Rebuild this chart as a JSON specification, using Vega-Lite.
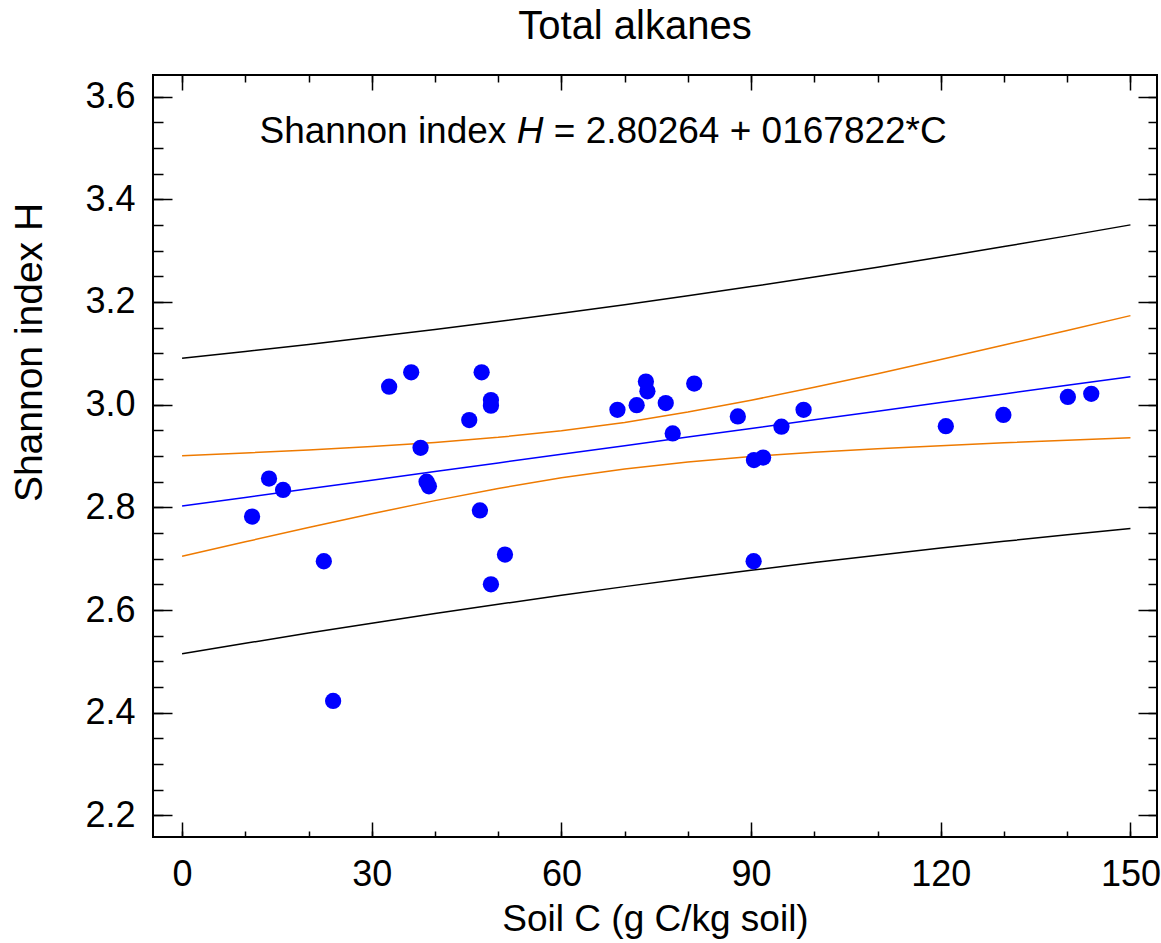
{
  "$schema": "https://vega.github.io/schema/vega-lite/v6.json",
  "width": 1004,
  "height": 762,
  "autosize": {"type": "none"},
  "padding": {"left": 153, "top": 75, "right": 4, "bottom": 106},
  "background": "white",
  "title": {"text": "Total alkanes", "font": "Liberation Sans", "fontSize": 40, "fontWeight": "normal", "color": "black", "anchor": "middle", "baseline": "alphabetic", "offset": -5, "dx": -20},
  "config": {
    "view": {"stroke": "black", "strokeWidth": 2},
    "axis": {"domain": false, "grid": false, "labelFont": "Liberation Sans", "titleFont": "Liberation Sans", "labelColor": "black", "titleColor": "black", "tickColor": "black", "tickWidth": 1.5, "titleFontWeight": "normal", "labelFontSize": 36, "titleFontSize": 37}
  },
  "datasets": {
    "points": [
      {"C": 11.07, "H": 2.782}, {"C": 13.75, "H": 2.856}, {"C": 15.97, "H": 2.834}, {"C": 22.42, "H": 2.695},
      {"C": 23.89, "H": 2.423}, {"C": 32.75, "H": 3.035}, {"C": 36.24, "H": 3.063}, {"C": 37.72, "H": 2.916},
      {"C": 38.67, "H": 2.850}, {"C": 39.04, "H": 2.841}, {"C": 45.42, "H": 2.970}, {"C": 47.38, "H": 3.063},
      {"C": 47.11, "H": 2.794}, {"C": 48.85, "H": 3.009}, {"C": 48.85, "H": 2.998}, {"C": 48.85, "H": 2.650},
      {"C": 51.07, "H": 2.708}, {"C": 68.86, "H": 2.990}, {"C": 71.9, "H": 2.999}, {"C": 73.36, "H": 3.045},
      {"C": 73.6, "H": 3.026}, {"C": 76.5, "H": 3.003}, {"C": 77.6, "H": 2.944}, {"C": 81.0, "H": 3.041},
      {"C": 87.9, "H": 2.977}, {"C": 90.45, "H": 2.892}, {"C": 91.9, "H": 2.897}, {"C": 90.4, "H": 2.695},
      {"C": 94.8, "H": 2.957}, {"C": 98.3, "H": 2.990}, {"C": 120.8, "H": 2.958}, {"C": 129.9, "H": 2.980},
      {"C": 140.1, "H": 3.015}, {"C": 143.8, "H": 3.021}
    ],
    "fit": [
      {"C": 0, "fit": 2.8026, "conf_hi": 2.9006, "conf_lo": 2.7046, "pred_hi": 3.0905, "pred_lo": 2.5147},
      {"C": 10, "fit": 2.8194, "conf_hi": 2.9059, "conf_lo": 2.7329, "pred_hi": 3.1036, "pred_lo": 2.5352},
      {"C": 20, "fit": 2.8362, "conf_hi": 2.9118, "conf_lo": 2.7606, "pred_hi": 3.1173, "pred_lo": 2.5551},
      {"C": 30, "fit": 2.8530, "conf_hi": 2.9185, "conf_lo": 2.7875, "pred_hi": 3.1316, "pred_lo": 2.5744},
      {"C": 40, "fit": 2.8698, "conf_hi": 2.9265, "conf_lo": 2.8131, "pred_hi": 3.1464, "pred_lo": 2.5932},
      {"C": 50, "fit": 2.8865, "conf_hi": 2.9363, "conf_lo": 2.8367, "pred_hi": 3.1618, "pred_lo": 2.6112},
      {"C": 60, "fit": 2.9033, "conf_hi": 2.9491, "conf_lo": 2.8575, "pred_hi": 3.1779, "pred_lo": 2.6287},
      {"C": 70, "fit": 2.9201, "conf_hi": 2.9654, "conf_lo": 2.8748, "pred_hi": 3.1946, "pred_lo": 2.6456},
      {"C": 80, "fit": 2.9369, "conf_hi": 2.9855, "conf_lo": 2.8883, "pred_hi": 3.2120, "pred_lo": 2.6618},
      {"C": 90, "fit": 2.9537, "conf_hi": 3.0085, "conf_lo": 2.8989, "pred_hi": 3.2299, "pred_lo": 2.6775},
      {"C": 100, "fit": 2.9705, "conf_hi": 3.0338, "conf_lo": 2.9072, "pred_hi": 3.2485, "pred_lo": 2.6925},
      {"C": 110, "fit": 2.9872, "conf_hi": 3.0603, "conf_lo": 2.9141, "pred_hi": 3.2676, "pred_lo": 2.7068},
      {"C": 120, "fit": 3.0040, "conf_hi": 3.0878, "conf_lo": 2.9202, "pred_hi": 3.2874, "pred_lo": 2.7206},
      {"C": 130, "fit": 3.0208, "conf_hi": 3.1160, "conf_lo": 2.9256, "pred_hi": 3.3078, "pred_lo": 2.7338},
      {"C": 140, "fit": 3.0376, "conf_hi": 3.1445, "conf_lo": 2.9307, "pred_hi": 3.3287, "pred_lo": 2.7465},
      {"C": 150, "fit": 3.0544, "conf_hi": 3.1734, "conf_lo": 2.9354, "pred_hi": 3.3501, "pred_lo": 2.7587}
    ]
  },
  "layer": [
    {
      "data": {"name": "fit"},
      "mark": {"type": "line", "color": "black", "strokeWidth": 1.5},
      "encoding": {
        "x": {"field": "C", "type": "quantitative", "scale": {"domain": [-4.6, 154.2], "nice": false, "zero": false},
              "axis": {"orient": "bottom", "values": [0,10,20,30,40,50,60,70,80,90,100,110,120,130,140,150], "labels": false, "tickSize": -6, "title": null}},
        "y": {"field": "pred_hi", "type": "quantitative", "scale": {"domain": [2.158, 3.642], "nice": false, "zero": false},
              "axis": {"orient": "left", "values": [2.2,2.25,2.3,2.35,2.4,2.45,2.5,2.55,2.6,2.65,2.7,2.75,2.8,2.85,2.9,2.95,3.0,3.05,3.1,3.15,3.2,3.25,3.3,3.35,3.4,3.45,3.5,3.55,3.6], "labels": false, "tickSize": -10, "title": null}}
      }
    },
    {
      "data": {"name": "fit"},
      "mark": {"type": "line", "color": "black", "strokeWidth": 1.5},
      "encoding": {
        "x": {"field": "C", "type": "quantitative", "scale": {"domain": [-4.6, 154.2], "nice": false, "zero": false},
              "axis": {"orient": "top", "values": [0,30,60,90,120,150], "labels": false, "tickSize": -15, "title": null}},
        "y": {"field": "pred_lo", "type": "quantitative", "scale": {"domain": [2.158, 3.642], "nice": false, "zero": false},
              "axis": {"orient": "right", "values": [2.2,2.4,2.6,2.8,3.0,3.2,3.4,3.6], "labels": false, "tickSize": -19, "title": null}}
      }
    },
    {
      "data": {"name": "fit"},
      "mark": {"type": "line", "color": "#EE7A00", "strokeWidth": 1.5},
      "encoding": {
        "x": {"field": "C", "type": "quantitative", "scale": {"domain": [-4.6, 154.2], "nice": false, "zero": false},
              "axis": {"orient": "top", "values": [0,10,20,30,40,50,60,70,80,90,100,110,120,130,140,150], "labels": false, "tickSize": -7, "title": null}},
        "y": {"field": "conf_hi", "type": "quantitative", "scale": {"domain": [2.158, 3.642], "nice": false, "zero": false},
              "axis": {"orient": "right", "values": [2.2,2.25,2.3,2.35,2.4,2.45,2.5,2.55,2.6,2.65,2.7,2.75,2.8,2.85,2.9,2.95,3.0,3.05,3.1,3.15,3.2,3.25,3.3,3.35,3.4,3.45,3.5,3.55,3.6], "labels": false, "tickSize": -9, "title": null}}
      }
    },
    {
      "data": {"name": "fit"},
      "mark": {"type": "line", "color": "#EE7A00", "strokeWidth": 1.5},
      "encoding": {
        "x": {"field": "C", "type": "quantitative", "scale": {"domain": [-4.6, 154.2], "nice": false, "zero": false}, "axis": null},
        "y": {"field": "conf_lo", "type": "quantitative", "scale": {"domain": [2.158, 3.642], "nice": false, "zero": false}, "axis": null}
      }
    },
    {
      "data": {"name": "fit"},
      "mark": {"type": "line", "color": "#0000FF", "strokeWidth": 1.5},
      "encoding": {
        "x": {"field": "C", "type": "quantitative", "scale": {"domain": [-4.6, 154.2], "nice": false, "zero": false}, "axis": null},
        "y": {"field": "fit", "type": "quantitative", "scale": {"domain": [2.158, 3.642], "nice": false, "zero": false}, "axis": null}
      }
    },
    {
      "data": {"name": "points"},
      "mark": {"type": "circle", "color": "#0000FF", "opacity": 1, "size": 265},
      "encoding": {
        "x": {"field": "C", "type": "quantitative", "scale": {"domain": [-4.6, 154.2], "nice": false, "zero": false},
              "axis": {"orient": "bottom", "values": [0,30,60,90,120,150], "format": "d", "tickSize": -15, "labelPadding": 35, "title": "Soil C (g C/kg soil)", "titleBaseline": "alphabetic", "titleY": 93}},
        "y": {"field": "H", "type": "quantitative", "scale": {"domain": [2.158, 3.642], "nice": false, "zero": false},
              "axis": {"orient": "left", "values": [2.2,2.4,2.6,2.8,3.0,3.2,3.4,3.6], "format": ".1f", "tickSize": -19, "labelPadding": 37, "title": "Shannon index H", "titleFontSize": 39, "titleBaseline": "alphabetic", "titleX": -112, "titleY": 277, "titleAngle": -90}}
      }
    },
    {
      "data": {"values": [{}]},
      "mark": {"type": "text", "font": "Liberation Sans", "fontSize": 37, "align": "left", "baseline": "alphabetic", "color": "black", "text": "Shannon index"},
      "encoding": {
        "x": {"datum": 12.24, "type": "quantitative", "axis": null},
        "y": {"datum": 3.51, "type": "quantitative", "axis": null}
      }
    },
    {
      "data": {"values": [{}]},
      "mark": {"type": "text", "font": "Liberation Sans", "fontSize": 37, "fontStyle": "italic", "align": "left", "baseline": "alphabetic", "color": "black", "text": "H"},
      "encoding": {
        "x": {"datum": 52.94, "type": "quantitative", "axis": null},
        "y": {"datum": 3.51, "type": "quantitative", "axis": null}
      }
    },
    {
      "data": {"values": [{}]},
      "mark": {"type": "text", "font": "Liberation Sans", "fontSize": 37, "align": "left", "baseline": "alphabetic", "color": "black", "text": "= 2.80264 + 0167822*C"},
      "encoding": {
        "x": {"datum": 58.79, "type": "quantitative", "axis": null},
        "y": {"datum": 3.51, "type": "quantitative", "axis": null}
      }
    }
  ],
  "resolve": {"axis": {"x": "independent", "y": "independent"}}
}
